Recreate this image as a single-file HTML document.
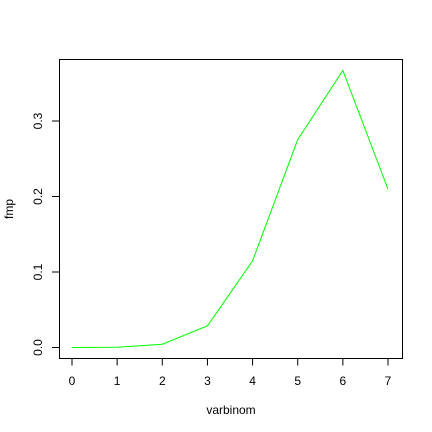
<!DOCTYPE html>
<html><head><style>body{margin:0;background:#fff}svg{display:block;font-family:"Liberation Sans",sans-serif}</style></head>
<body>
<svg id="c" width="432" height="432"></svg>
<script>
const categories=[0,1,2,3,4,5,6,7];
const values=[0.0000128,0.000358,0.0043,0.0287,0.1147,0.2753,0.367,0.2097];
const xTicks=[0,1,2,3,4,5,6,7];
const yTicks=[0.0,0.1,0.2,0.3];
const yTickLabels=["0.0","0.1","0.2","0.3"];
const svg=document.getElementById('c');const NS='http://www.w3.org/2000/svg';
const X=v=>72+v*(388-72)/7;
const Y=v=>347.5-v*(347.5-121)/0.3;
function mk(t,a,txt){const e=document.createElementNS(NS,t);for(const k in a)e.setAttribute(k,a[k]);if(txt!=null)e.textContent=txt;svg.appendChild(e);return e;}
let box=mk('rect',{x:59.5,y:59.5,width:343,height:299,fill:'none',stroke:'#000'});


xTicks.forEach(t=>{let l=mk('line',{x1:X(t),x2:X(t),y1:358.5,y2:365.5,stroke:'#000'});


let tx=mk('text',{x:X(t),y:385,'font-size':12,'text-anchor':'middle'},String(t));

});
yTicks.forEach((t,i)=>{let l=mk('line',{x1:52,x2:59.5,y1:Y(t),y2:Y(t),stroke:'#000'});


let tx=mk('text',{x:0,y:0,'font-size':12,'text-anchor':'middle',transform:`translate(42,${Y(t)}) rotate(-90)`},yTickLabels[i]);

});
let pts=categories.map((c,i)=>X(c)+','+Y(values[i])).join(' ');
let pl=mk('polyline',{points:pts,fill:'none',stroke:'#00ff00','stroke-width':1});


let xt=mk('text',{x:231,y:414,'font-size':12,'text-anchor':'middle'},'varbinom');


let yt=mk('text',{x:0,y:0,'font-size':12,'text-anchor':'middle',transform:'translate(13,209) rotate(-90)'},'fmp');


</script>
</body></html>
